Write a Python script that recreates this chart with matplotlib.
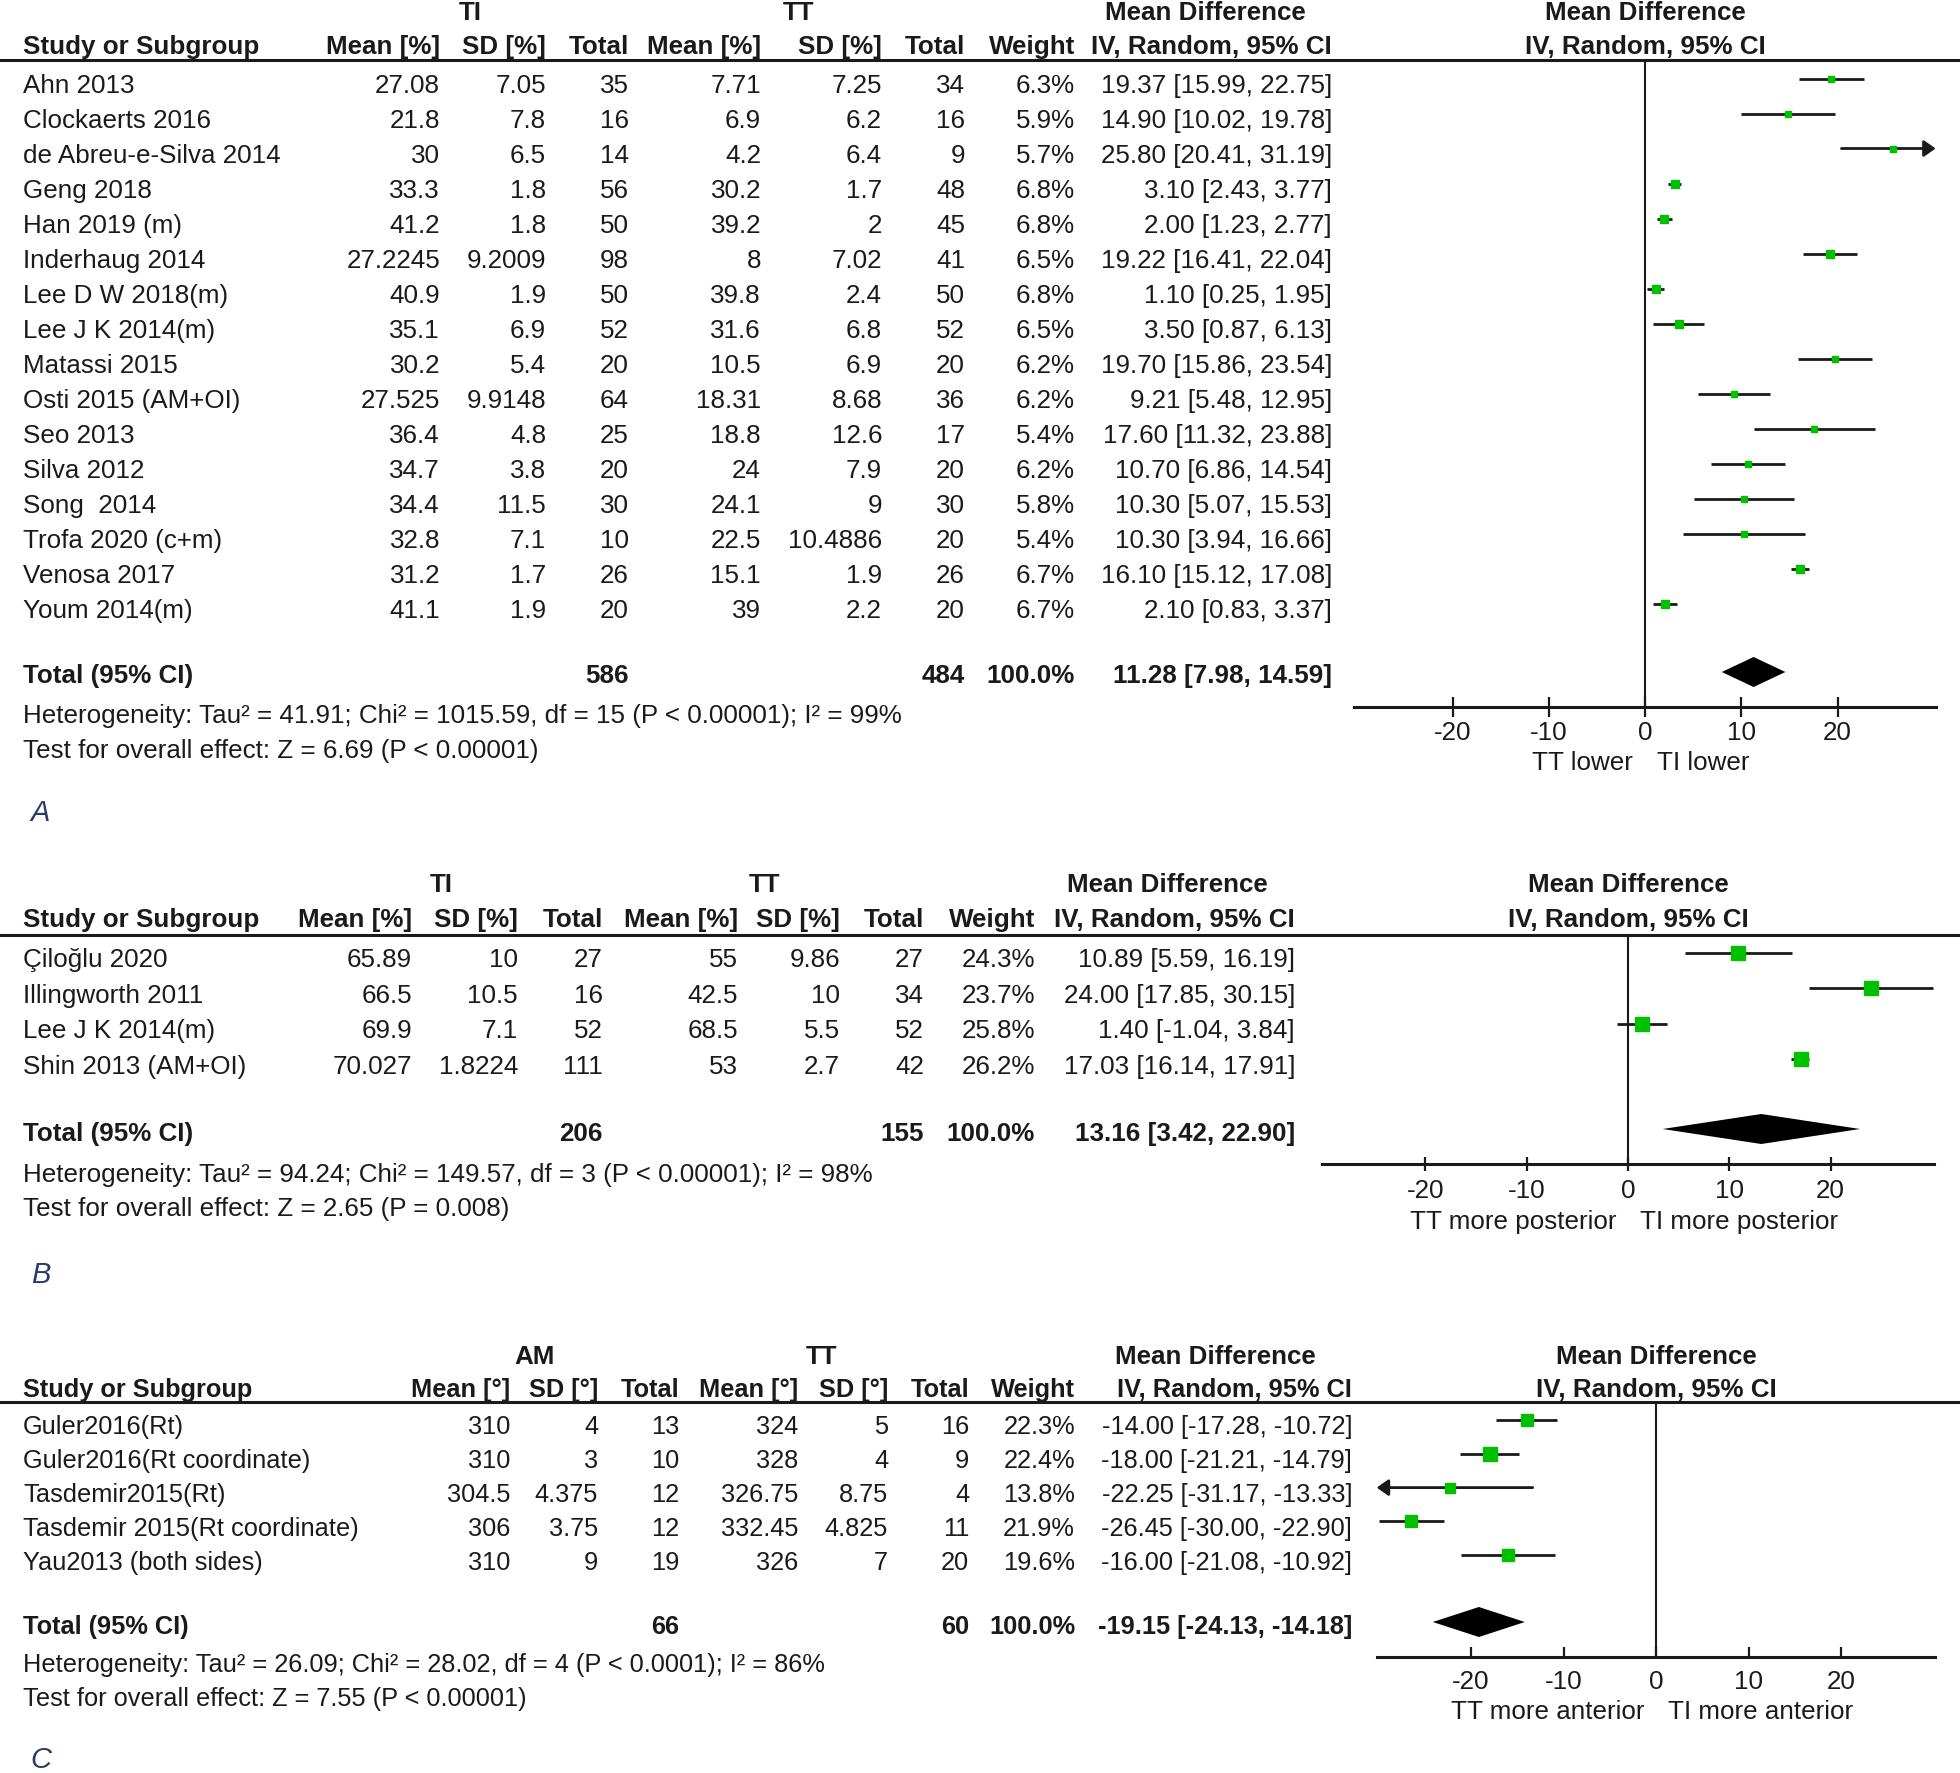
import numpy as np
import matplotlib.pyplot as plt

plt.rcParams['font.family'] = ['Liberation Sans', 'DejaVu Sans']
plt.rcParams['axes.unicode_minus'] = False

W, H = 1960, 1774
FS = 18.7
INK = '#1a1a1a'
GREEN = '#00c000'

# ---------------- panel A data ----------------
a_study = ["Ahn 2013", "Clockaerts 2016", "de Abreu-e-Silva 2014", "Geng 2018", "Han 2019 (m)",
           "Inderhaug 2014", "Lee D W 2018(m)", "Lee J K 2014(m)", "Matassi 2015",
           "Osti 2015 (AM+OI)", "Seo 2013", "Silva 2012", "Song  2014", "Trofa 2020 (c+m)",
           "Venosa 2017", "Youm 2014(m)"]
a_ti_mean = [27.08, 21.8, 30, 33.3, 41.2, 27.2245, 40.9, 35.1, 30.2, 27.525, 36.4, 34.7, 34.4, 32.8, 31.2, 41.1]
a_ti_sd = [7.05, 7.8, 6.5, 1.8, 1.8, 9.2009, 1.9, 6.9, 5.4, 9.9148, 4.8, 3.8, 11.5, 7.1, 1.7, 1.9]
a_ti_n = [35, 16, 14, 56, 50, 98, 50, 52, 20, 64, 25, 20, 30, 10, 26, 20]
a_tt_mean = [7.71, 6.9, 4.2, 30.2, 39.2, 8, 39.8, 31.6, 10.5, 18.31, 18.8, 24, 24.1, 22.5, 15.1, 39]
a_tt_sd = [7.25, 6.2, 6.4, 1.7, 2, 7.02, 2.4, 6.8, 6.9, 8.68, 12.6, 7.9, 9, 10.4886, 1.9, 2.2]
a_tt_n = [34, 16, 9, 48, 45, 41, 50, 52, 20, 36, 17, 20, 30, 20, 26, 20]
a_weight = [6.3, 5.9, 5.7, 6.8, 6.8, 6.5, 6.8, 6.5, 6.2, 6.2, 5.4, 6.2, 5.8, 5.4, 6.7, 6.7]
a_md = [19.37, 14.90, 25.80, 3.10, 2.00, 19.22, 1.10, 3.50, 19.70, 9.21, 17.60, 10.70, 10.30, 10.30, 16.10, 2.10]
a_lo = [15.99, 10.02, 20.41, 2.43, 1.23, 16.41, 0.25, 0.87, 15.86, 5.48, 11.32, 6.86, 5.07, 3.94, 15.12, 0.83]
a_hi = [22.75, 19.78, 31.19, 3.77, 2.77, 22.04, 1.95, 6.13, 23.54, 12.95, 23.88, 14.54, 15.53, 16.66, 17.08, 3.37]
a_total = (586, 484, 11.28, 7.98, 14.59)
a_het = "Heterogeneity: Tau² = 41.91; Chi² = 1015.59, df = 15 (P < 0.00001); I² = 99%"
a_test = "Test for overall effect: Z = 6.69 (P < 0.00001)"

# ---------------- panel B data ----------------
b_study = ["Çiloğlu 2020", "Illingworth 2011", "Lee J K 2014(m)", "Shin 2013 (AM+OI)"]
b_ti_mean = [65.89, 66.5, 69.9, 70.027]
b_ti_sd = [10, 10.5, 7.1, 1.8224]
b_ti_n = [27, 16, 52, 111]
b_tt_mean = [55, 42.5, 68.5, 53]
b_tt_sd = [9.86, 10, 5.5, 2.7]
b_tt_n = [27, 34, 52, 42]
b_weight = [24.3, 23.7, 25.8, 26.2]
b_md = [10.89, 24.00, 1.40, 17.03]
b_lo = [5.59, 17.85, -1.04, 16.14]
b_hi = [16.19, 30.15, 3.84, 17.91]
b_total = (206, 155, 13.16, 3.42, 22.90)
b_het = "Heterogeneity: Tau² = 94.24; Chi² = 149.57, df = 3 (P < 0.00001); I² = 98%"
b_test = "Test for overall effect: Z = 2.65 (P = 0.008)"

# ---------------- panel C data ----------------
c_study = ["Guler2016(Rt)", "Guler2016(Rt coordinate)", "Tasdemir2015(Rt)",
           "Tasdemir 2015(Rt coordinate)", "Yau2013 (both sides)"]
c_am_mean = [310, 310, 304.5, 306, 310]
c_am_sd = [4, 3, 4.375, 3.75, 9]
c_am_n = [13, 10, 12, 12, 19]
c_tt_mean = [324, 328, 326.75, 332.45, 326]
c_tt_sd = [5, 4, 8.75, 4.825, 7]
c_tt_n = [16, 9, 4, 11, 20]
c_weight = [22.3, 22.4, 13.8, 21.9, 19.6]
c_md = [-14.00, -18.00, -22.25, -26.45, -16.00]
c_lo = [-17.28, -21.21, -31.17, -30.00, -21.08]
c_hi = [-10.72, -14.79, -13.33, -22.90, -10.92]
c_total = (66, 60, -19.15, -24.13, -14.18)
c_het = "Heterogeneity: Tau² = 26.09; Chi² = 28.02, df = 4 (P < 0.0001); I² = 86%"
c_test = "Test for overall effect: Z = 7.55 (P < 0.00001)"

ticks = [-20, -10, 0, 10, 20]
tick_labels = ['-20', '-10', '0', '10', '20']

# layout (pixels)
lay_a = dict(cols=[440, 546, 629, 761, 882, 965, 1075, 1332], grp_x=[470, 798, 1205],
             y_grp=11, y_head=45, y_line=61, row0=84, dy=35, y_tot=674, y_het=714, y_test=749,
             zero=1645, scale=9.625, y_axis=708, mrow0=79.5, mdy=35, y_mtot=673, y_dir=761,
             tdir='inout', tlen=20, tpad=3.5, fs=FS)
lay_b = dict(cols=[412, 518, 603, 738, 840, 924, 1035, 1295], grp_x=[441, 764, 1167],
             y_grp=883, y_head=918, y_line=936, row0=958, dy=35.5, y_tot=1132, y_het=1173, y_test=1207,
             zero=1628, scale=10.13, y_axis=1165, mrow0=954, mdy=35.3, y_mtot=1130, y_dir=1220,
             tdir='inout', tlen=14, tpad=6.5, fs=FS)
lay_c = dict(cols=[510, 598, 679, 798, 888, 969, 1075, 1352], grp_x=[535, 821, 1215],
             y_grp=1355, y_head=1388, y_line=1403, row0=1425, dy=34, y_tot=1625, y_het=1663, y_test=1697,
             zero=1656, scale=9.25, y_axis=1658, mrow0=1421, mdy=33.8, y_mtot=1623, y_dir=1710,
             tdir='in', tlen=10, tpad=12.5, fs=18.3)

fig = plt.figure(figsize=(W / 100, H / 100), dpi=100)
bg = fig.add_axes([0, 0, 1, 1])
bg.set_xlim(0, W)
bg.set_ylim(H, 0)
bg.axis('off')


def put(x, y, s, ha='left', bold=False, size=FS, color=INK):
    em = size * 100 / 72
    bg.text(x, y + 0.358 * em, s, ha=ha, va='baseline', fontsize=size,
            fontweight='bold' if bold else 'normal', color=color)


def table(lay, grp, unit, studies, cells, wt, md, lo, hi, total, het, test):
    x0 = 23
    fs = lay['fs']
    for gx, name in zip(lay['grp_x'], [grp, 'TT', 'Mean Difference']):
        put(gx, lay['y_grp'], name, ha='center', bold=True)
    heads = [f'Mean [{unit}]', f'SD [{unit}]', 'Total', f'Mean [{unit}]', f'SD [{unit}]', 'Total',
             'Weight', 'IV, Random, 95% CI']
    put(x0, lay['y_head'], 'Study or Subgroup', bold=True, size=fs)
    for cx, h in zip(lay['cols'], heads):
        put(cx, lay['y_head'], h, ha='right', bold=True, size=fs)
    bg.plot([0, W], [lay['y_line']] * 2, color=INK, lw=2.2)
    for i, name in enumerate(studies):
        y = lay['row0'] + i * lay['dy']
        put(x0, y, name, size=fs)
        vals = [f'{c[i]:g}' for c in cells]
        vals += [f'{wt[i]:.1f}%', f'{md[i]:.2f} [{lo[i]:.2f}, {hi[i]:.2f}]']
        for cx, v in zip(lay['cols'], vals):
            put(cx, y, v, ha='right', size=fs)
    n1, n2, m, l, h = total
    yt = lay['y_tot']
    put(x0, yt, 'Total (95% CI)', bold=True, size=fs)
    put(lay['cols'][2], yt, f'{n1}', ha='right', bold=True, size=fs)
    put(lay['cols'][5], yt, f'{n2}', ha='right', bold=True, size=fs)
    put(lay['cols'][6], yt, '100.0%', ha='right', bold=True, size=fs)
    put(lay['cols'][7], yt, f'{m:.2f} [{l:.2f}, {h:.2f}]', ha='right', bold=True, size=fs)
    put(x0, lay['y_het'], het, size=fs)
    put(x0, lay['y_test'], test, size=fs)


def forest(lay, md, lo, hi, wt, total, left_lbl, right_lbl):
    z, s = lay['zero'], lay['scale']
    xl = 30.2
    left = z - xl * s
    top, bot = lay['y_line'], lay['y_axis']
    ax = fig.add_axes([left / W, 1 - bot / H, 2 * xl * s / W, (bot - top) / H])
    ax.patch.set_visible(False)
    ax.set_xlim(-xl, xl)
    r0, dy = lay['mrow0'], lay['mdy']
    ax.set_ylim((bot - r0) / dy, (top - r0) / dy)
    for sp in ['left', 'right', 'top']:
        ax.spines[sp].set_visible(False)
    ax.spines['bottom'].set_linewidth(2.2)
    ax.spines['bottom'].set_color(INK)
    ax.axvline(0, color=INK, lw=1.5)
    for i in range(len(md)):
        a, b = lo[i], hi[i]
        if a < -xl or b > xl:
            tip = -xl if a < -xl else xl
            base = b if a < -xl else a
            ax.annotate('', xy=(tip, i), xytext=(base, i), annotation_clip=False,
                        arrowprops=dict(arrowstyle='-|>,head_length=0.5,head_width=0.35', color=INK,
                                        lw=2, shrinkA=0, shrinkB=0, mutation_scale=14))
        else:
            ax.plot([a, b], [i, i], color=INK, lw=2, solid_capstyle='butt')
        ms = 2.75 * np.sqrt(wt[i]) * 0.72
        ax.plot(md[i], i, marker='s', ms=ms, color=GREEN, mec=GREEN, zorder=4)
    _, _, m, l, h = total
    yt = (lay['y_mtot'] - r0) / dy
    hh = 15 / dy
    ax.fill([l, m, h, m], [yt, yt - hh, yt, yt + hh], color='black', lw=0)
    ax.set_yticks([])
    ax.set_xticks(ticks)
    ax.set_xticklabels(tick_labels)
    ax.tick_params(axis='x', direction=lay['tdir'], length=lay['tlen'] * 0.72, width=1.6,
                   labelsize=FS, pad=lay['tpad'] * 0.72, colors=INK)
    put(z, lay['y_grp'], 'Mean Difference', ha='center', bold=True)
    put(z, lay['y_head'], 'IV, Random, 95% CI', ha='center', bold=True)
    put(z - 12, lay['y_dir'], left_lbl, ha='right')
    put(z + 12, lay['y_dir'], right_lbl)


table(lay_a, 'TI', '%', a_study, [a_ti_mean, a_ti_sd, a_ti_n, a_tt_mean, a_tt_sd, a_tt_n],
      a_weight, a_md, a_lo, a_hi, a_total, a_het, a_test)
forest(lay_a, a_md, a_lo, a_hi, a_weight, a_total, 'TT lower', 'TI lower')

table(lay_b, 'TI', '%', b_study, [b_ti_mean, b_ti_sd, b_ti_n, b_tt_mean, b_tt_sd, b_tt_n],
      b_weight, b_md, b_lo, b_hi, b_total, b_het, b_test)
forest(lay_b, b_md, b_lo, b_hi, b_weight, b_total, 'TT more posterior', 'TI more posterior')

table(lay_c, 'AM', '°', c_study, [c_am_mean, c_am_sd, c_am_n, c_tt_mean, c_tt_sd, c_tt_n],
      c_weight, c_md, c_lo, c_hi, c_total, c_het, c_test)
forest(lay_c, c_md, c_lo, c_hi, c_weight, c_total, 'TT more anterior', 'TI more anterior')

for lbl, x, y in [('A', 40, 813), ('B', 41, 1275), ('C', 41, 1760)]:
    bg.text(x, y, lbl, fontsize=21, style='italic', color='#2b3a67', ha='center', va='center')

fig.savefig('out.png', dpi=100)
